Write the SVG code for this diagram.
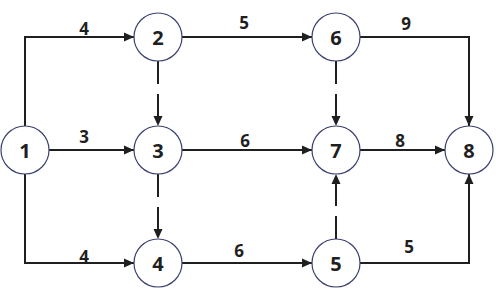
<svg xmlns="http://www.w3.org/2000/svg" width="496" height="289" viewBox="0 0 496 289">
<defs>
<marker id="arr" markerUnits="userSpaceOnUse" markerWidth="10" markerHeight="10" viewBox="0 0 10 10" refX="10" refY="5" orient="auto">
<path d="M0,0.5 L10,5 L0,9.5 z" fill="#1f1f1f"/>
</marker>
<style>
.n circle{fill:#fff;stroke:#3b4170;stroke-width:1.2}
.n text{font-family:"Open Sans","Noto Sans",sans-serif;font-weight:bold;font-size:20px;fill:#1f1f1f;text-anchor:middle;dominant-baseline:central}
.e path{fill:none;stroke:#1f1f1f;stroke-width:2;marker-end:url(#arr)}
.e path.d{stroke-dasharray:23 10}
.lbl text{font-family:"Open Sans","Noto Sans",sans-serif;font-weight:bold;font-size:17px;fill:#1f1f1f;text-anchor:middle;dominant-baseline:central}
</style>
</defs>
<rect width="496" height="289" fill="#fff"/>
<g id="connectors" class="e">
<path d="M25,126 V37 H134"/>
<path d="M49,150 H134"/>
<path d="M25,174 V263 H134"/>
<path d="M182,37 H312"/>
<path d="M182,150 H312"/>
<path d="M182,263 H312"/>
<path d="M360,150 H445"/>
<path d="M360,37 H469 V126"/>
<path d="M360,263 H469 V174"/>
<path class="d" d="M158,61 V126"/>
<path class="d" d="M158,174 V239"/>
<path class="d" d="M336,61 V126"/>
<path class="d" d="M336,239 V174"/>
</g>
<g id="labels" class="lbl">
<text x="84" y="28">4</text>
<text x="84" y="136">3</text>
<text x="84" y="256">4</text>
<text x="244" y="22">5</text>
<text x="245" y="140">6</text>
<text x="239" y="250">6</text>
<text x="406" y="23">9</text>
<text x="400" y="140">8</text>
<text x="409" y="246">5</text>
</g>
<g id="node1" class="n"><circle cx="25" cy="150" r="24"/><text x="25" y="150">1</text></g>
<g id="node2" class="n"><circle cx="158" cy="37" r="24"/><text x="158" y="37">2</text></g>
<g id="node3" class="n"><circle cx="158" cy="150" r="24"/><text x="158" y="150">3</text></g>
<g id="node4" class="n"><circle cx="158" cy="263" r="24"/><text x="158" y="263">4</text></g>
<g id="node5" class="n"><circle cx="336" cy="263" r="24"/><text x="336" y="263">5</text></g>
<g id="node6" class="n"><circle cx="336" cy="37" r="24"/><text x="336" y="37">6</text></g>
<g id="node7" class="n"><circle cx="336" cy="150" r="24"/><text x="336" y="150">7</text></g>
<g id="node8" class="n"><circle cx="469" cy="150" r="24"/><text x="469" y="150">8</text></g>
</svg>
